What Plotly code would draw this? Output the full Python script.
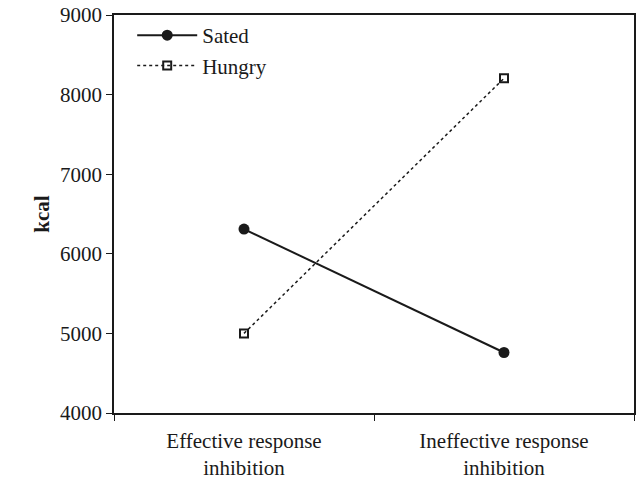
import plotly.graph_objects as go

categories = ["Effective response<br>inhibition", "Ineffective response<br>inhibition"]
sated = [6310, 4760]
hungry = [5000, 8205]
y_ticks = [4000, 5000, 6000, 7000, 8000, 9000]

FONT = "Liberation Serif"

fig = go.Figure()
fig.add_trace(go.Scatter(
    x=categories, y=sated, name="Sated", mode="lines+markers",
    line=dict(color="#1a1a1a", width=2),
    marker=dict(symbol="circle", size=11, color="#1a1a1a"),
))
fig.add_trace(go.Scatter(
    x=categories, y=hungry, name="Hungry", mode="lines+markers",
    line=dict(color="#1a1a1a", width=1.5, dash="dot"),
    marker=dict(symbol="square-open", size=8, color="#1a1a1a", line=dict(width=2)),
))

fig.update_layout(
    width=638, height=482,
    margin=dict(l=114, r=4, t=15, b=69, autoexpand=False),
    paper_bgcolor="white", plot_bgcolor="white",
    font=dict(family=FONT, size=21, color="#1a1a1a"),
    showlegend=True,
    legend=dict(x=0.035, y=1.0, xanchor="left", yanchor="top",
                bgcolor="rgba(0,0,0,0)", font=dict(size=21), itemwidth=60),
    xaxis=dict(type="category", range=[-0.5, 1.5], tickson="boundaries",
               ticks="outside", ticklen=6, tickcolor="#1a1a1a",
               showline=True, linecolor="#1a1a1a", linewidth=1.5, mirror=True,
               showgrid=False, zeroline=False, ticklabeloverflow="allow",
               automargin=False, ticklabelstandoff=8),
    yaxis=dict(range=[4000, 9000], tickvals=y_ticks,
               ticks="outside", ticklen=6, tickcolor="#1a1a1a",
               showline=True, linecolor="#1a1a1a", linewidth=1.5, mirror=True,
               showgrid=False, zeroline=False, ticklabeloverflow="allow",
               automargin=False,
               title=dict(text="<b>kcal</b>", font=dict(size=21), standoff=5)),
)

fig.write_html("out.html", config={"displayModeBar": False},
               post_script="document.body.style.margin='0';")
